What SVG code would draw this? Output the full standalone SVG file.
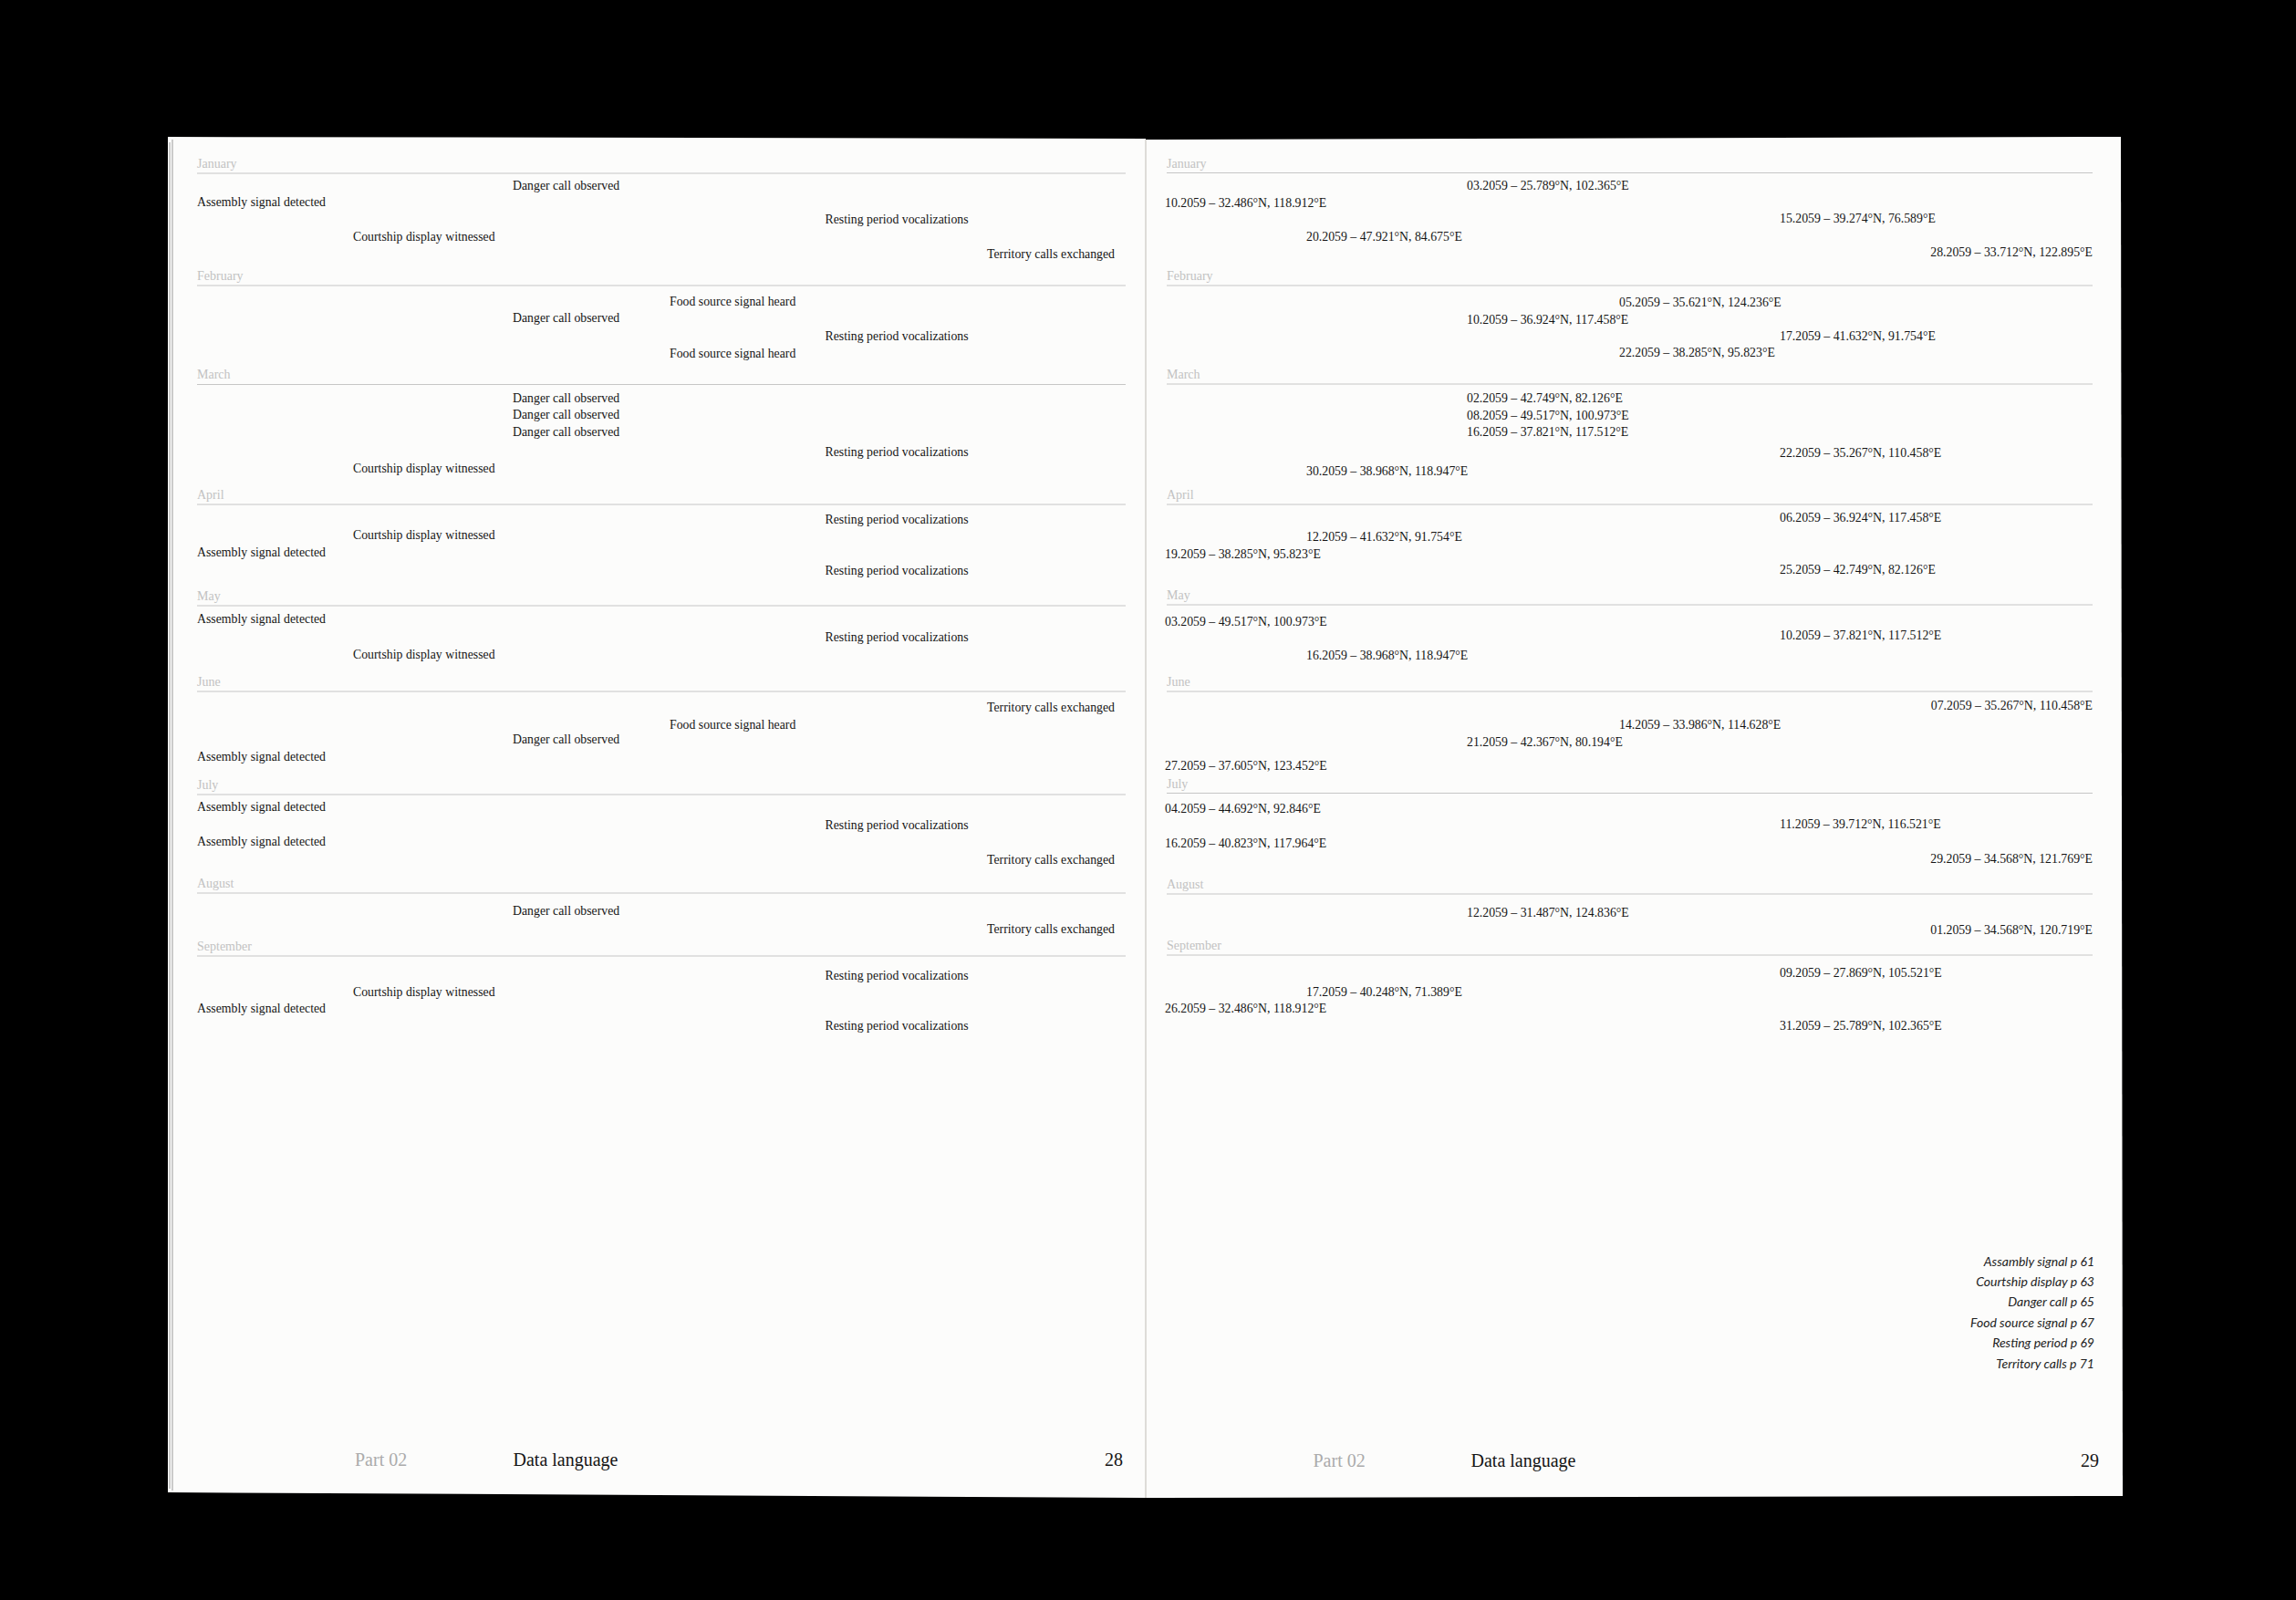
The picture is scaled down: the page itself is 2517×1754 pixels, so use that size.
<svg xmlns="http://www.w3.org/2000/svg" width="2517" height="1754" viewBox="0 0 2517 1754">
<style>
.page{fill:#fcfcfb}
.stack{stroke:#9a9a9a;stroke-width:1;fill:none}
.spine{stroke:#dedcd8;stroke-width:2}
.rule{stroke:#c6c6c6;stroke-width:1}
.mon{font-family:"Liberation Serif","DejaVu Serif",serif;font-size:14px;fill:#c2c2c2}
.t{font-family:"Liberation Serif","DejaVu Serif",serif;font-size:13.8px;fill:#151515}
.r{text-anchor:end}
.leg{font-family:Lato,"Open Sans",sans-serif;font-style:italic;font-size:14px;fill:#222;text-anchor:end}
.part{font-family:"Liberation Serif","DejaVu Serif",serif;font-size:20px;fill:#ababab}
.title{font-family:"Liberation Serif","DejaVu Serif",serif;font-size:20px;fill:#151515}
.num{font-family:"Liberation Serif","DejaVu Serif",serif;font-size:20px;fill:#151515;text-anchor:end}
</style>
<rect x="0" y="0" width="2517" height="1754" fill="#000"/>
<g id="pages">
<polygon class="page" points="184,150 1256,152 1256,1642 184,1636"/>
<polygon class="page" points="1256,153 2325,150 2327,1640 1256,1642"/>
<line class="stack" x1="186" y1="156" x2="186" y2="1632"/>
<line class="stack" x1="189" y1="153" x2="189" y2="1634"/>
<line class="spine" x1="1256" y1="153" x2="1256" y2="1642"/>
</g>

<g id="left-page">
<g id="l-january">
<text class="mon" x="216" y="184">January</text>
<line class="rule" x1="216" y1="190" x2="1234" y2="190"/>
<text class="t" x="562" y="207.5">Danger call observed</text>
<text class="t" x="216" y="225.5">Assembly signal detected</text>
<text class="t" x="904.5" y="245">Resting period vocalizations</text>
<text class="t" x="387" y="263.5">Courtship display witnessed</text>
<text class="t" x="1082" y="282.5">Territory calls exchanged</text>
</g>
<g id="l-february">
<text class="mon" x="216" y="307">February</text>
<line class="rule" x1="216" y1="313" x2="1234" y2="313"/>
<text class="t" x="734" y="334.5">Food source signal heard</text>
<text class="t" x="562" y="353">Danger call observed</text>
<text class="t" x="904.5" y="373">Resting period vocalizations</text>
<text class="t" x="734" y="391.5">Food source signal heard</text>
</g>
<g id="l-march">
<text class="mon" x="216" y="415">March</text>
<line class="rule" x1="216" y1="421.5" x2="1234" y2="421.5"/>
<text class="t" x="562" y="440.5">Danger call observed</text>
<text class="t" x="562" y="459">Danger call observed</text>
<text class="t" x="562" y="478">Danger call observed</text>
<text class="t" x="904.5" y="499.5">Resting period vocalizations</text>
<text class="t" x="387" y="517.5">Courtship display witnessed</text>
</g>
<g id="l-april">
<text class="mon" x="216" y="547">April</text>
<line class="rule" x1="216" y1="553" x2="1234" y2="553"/>
<text class="t" x="904.5" y="573.5">Resting period vocalizations</text>
<text class="t" x="387" y="591">Courtship display witnessed</text>
<text class="t" x="216" y="609.5">Assembly signal detected</text>
<text class="t" x="904.5" y="629.5">Resting period vocalizations</text>
</g>
<g id="l-may">
<text class="mon" x="216" y="658">May</text>
<line class="rule" x1="216" y1="664" x2="1234" y2="664"/>
<text class="t" x="216" y="683">Assembly signal detected</text>
<text class="t" x="904.5" y="703">Resting period vocalizations</text>
<text class="t" x="387" y="721.5">Courtship display witnessed</text>
</g>
<g id="l-june">
<text class="mon" x="216" y="752">June</text>
<line class="rule" x1="216" y1="758" x2="1234" y2="758"/>
<text class="t" x="1082" y="779.5">Territory calls exchanged</text>
<text class="t" x="734" y="798.5">Food source signal heard</text>
<text class="t" x="562" y="814.5">Danger call observed</text>
<text class="t" x="216" y="833.5">Assembly signal detected</text>
</g>
<g id="l-july">
<text class="mon" x="216" y="864.5">July</text>
<line class="rule" x1="216" y1="871" x2="1234" y2="871"/>
<text class="t" x="216" y="889">Assembly signal detected</text>
<text class="t" x="904.5" y="909">Resting period vocalizations</text>
<text class="t" x="216" y="927">Assembly signal detected</text>
<text class="t" x="1082" y="946.5">Territory calls exchanged</text>
</g>
<g id="l-august">
<text class="mon" x="216" y="973">August</text>
<line class="rule" x1="216" y1="979" x2="1234" y2="979"/>
<text class="t" x="562" y="1003">Danger call observed</text>
<text class="t" x="1082" y="1022.5">Territory calls exchanged</text>
</g>
<g id="l-september">
<text class="mon" x="216" y="1042">September</text>
<line class="rule" x1="216" y1="1048" x2="1234" y2="1048"/>
<text class="t" x="904.5" y="1073.5">Resting period vocalizations</text>
<text class="t" x="387" y="1091.5">Courtship display witnessed</text>
<text class="t" x="216" y="1109.5">Assembly signal detected</text>
<text class="t" x="904.5" y="1128.5">Resting period vocalizations</text>
</g>
<g id="l-footer">
<text class="part" x="389" y="1607">Part 02</text>
<text class="title" x="562.5" y="1607">Data language</text>
<text class="num" x="1231" y="1607">28</text>
</g>
</g>

<g id="right-page">
<g id="r-january">
<text class="mon" x="1279" y="184">January</text>
<line class="rule" x1="1279" y1="189.5" x2="2294" y2="189.5"/>
<text class="t" x="1608" y="207.5">03.2059 – 25.789°N, 102.365°E</text>
<text class="t" x="1277" y="226.5">10.2059 – 32.486°N, 118.912°E</text>
<text class="t" x="1951" y="243.5">15.2059 – 39.274°N, 76.589°E</text>
<text class="t" x="1432" y="263.5">20.2059 – 47.921°N, 84.675°E</text>
<text class="t r" x="2294" y="281">28.2059 – 33.712°N, 122.895°E</text>
</g>
<g id="r-february">
<text class="mon" x="1279" y="307">February</text>
<line class="rule" x1="1279" y1="313" x2="2294" y2="313"/>
<text class="t" x="1775" y="336">05.2059 – 35.621°N, 124.236°E</text>
<text class="t" x="1608" y="354.5">10.2059 – 36.924°N, 117.458°E</text>
<text class="t" x="1951" y="372.5">17.2059 – 41.632°N, 91.754°E</text>
<text class="t" x="1775" y="391">22.2059 – 38.285°N, 95.823°E</text>
</g>
<g id="r-march">
<text class="mon" x="1279" y="415">March</text>
<line class="rule" x1="1279" y1="421" x2="2294" y2="421"/>
<text class="t" x="1608" y="440.5">02.2059 – 42.749°N, 82.126°E</text>
<text class="t" x="1608" y="459.5">08.2059 – 49.517°N, 100.973°E</text>
<text class="t" x="1608" y="477.5">16.2059 – 37.821°N, 117.512°E</text>
<text class="t" x="1951" y="501">22.2059 – 35.267°N, 110.458°E</text>
<text class="t" x="1432" y="521">30.2059 – 38.968°N, 118.947°E</text>
</g>
<g id="r-april">
<text class="mon" x="1279" y="547">April</text>
<line class="rule" x1="1279" y1="553" x2="2294" y2="553"/>
<text class="t" x="1951" y="572">06.2059 – 36.924°N, 117.458°E</text>
<text class="t" x="1432" y="592.5">12.2059 – 41.632°N, 91.754°E</text>
<text class="t" x="1277" y="612">19.2059 – 38.285°N, 95.823°E</text>
<text class="t" x="1951" y="629">25.2059 – 42.749°N, 82.126°E</text>
</g>
<g id="r-may">
<text class="mon" x="1279" y="657">May</text>
<line class="rule" x1="1279" y1="663" x2="2294" y2="663"/>
<text class="t" x="1277" y="685.5">03.2059 – 49.517°N, 100.973°E</text>
<text class="t" x="1951" y="701">10.2059 – 37.821°N, 117.512°E</text>
<text class="t" x="1432" y="723">16.2059 – 38.968°N, 118.947°E</text>
</g>
<g id="r-june">
<text class="mon" x="1279" y="752">June</text>
<line class="rule" x1="1279" y1="758" x2="2294" y2="758"/>
<text class="t r" x="2294" y="778">07.2059 – 35.267°N, 110.458°E</text>
<text class="t" x="1775" y="798.5">14.2059 – 33.986°N, 114.628°E</text>
<text class="t" x="1608" y="818">21.2059 – 42.367°N, 80.194°E</text>
<text class="t" x="1277" y="843.5">27.2059 – 37.605°N, 123.452°E</text>
</g>
<g id="r-july">
<text class="mon" x="1279" y="863.5">July</text>
<line class="rule" x1="1279" y1="869.5" x2="2294" y2="869.5"/>
<text class="t" x="1277" y="891">04.2059 – 44.692°N, 92.846°E</text>
<text class="t" x="1951" y="908">11.2059 – 39.712°N, 116.521°E</text>
<text class="t" x="1277" y="929">16.2059 – 40.823°N, 117.964°E</text>
<text class="t r" x="2294" y="945.5">29.2059 – 34.568°N, 121.769°E</text>
</g>
<g id="r-august">
<text class="mon" x="1279" y="974">August</text>
<line class="rule" x1="1279" y1="980" x2="2294" y2="980"/>
<text class="t" x="1608" y="1004.5">12.2059 – 31.487°N, 124.836°E</text>
<text class="t r" x="2294" y="1024">01.2059 – 34.568°N, 120.719°E</text>
</g>
<g id="r-september">
<text class="mon" x="1279" y="1041">September</text>
<line class="rule" x1="1279" y1="1047" x2="2294" y2="1047"/>
<text class="t" x="1951" y="1071">09.2059 – 27.869°N, 105.521°E</text>
<text class="t" x="1432" y="1092">17.2059 – 40.248°N, 71.389°E</text>
<text class="t" x="1277" y="1110">26.2059 – 32.486°N, 118.912°E</text>
<text class="t" x="1951" y="1129">31.2059 – 25.789°N, 102.365°E</text>
</g>
<g id="r-index">
<text class="leg" x="2296" y="1388">Assambly signal p 61</text>
<text class="leg" x="2296" y="1410">Courtship display p 63</text>
<text class="leg" x="2296" y="1432">Danger call p 65</text>
<text class="leg" x="2296" y="1455">Food source signal p 67</text>
<text class="leg" x="2296" y="1477">Resting period p 69</text>
<text class="leg" x="2296" y="1500">Territory calls p 71</text>
</g>
<g id="r-footer">
<text class="part" x="1439.5" y="1608">Part 02</text>
<text class="title" x="1612.5" y="1608">Data language</text>
<text class="num" x="2301" y="1608">29</text>
</g>
</g>
</svg>
